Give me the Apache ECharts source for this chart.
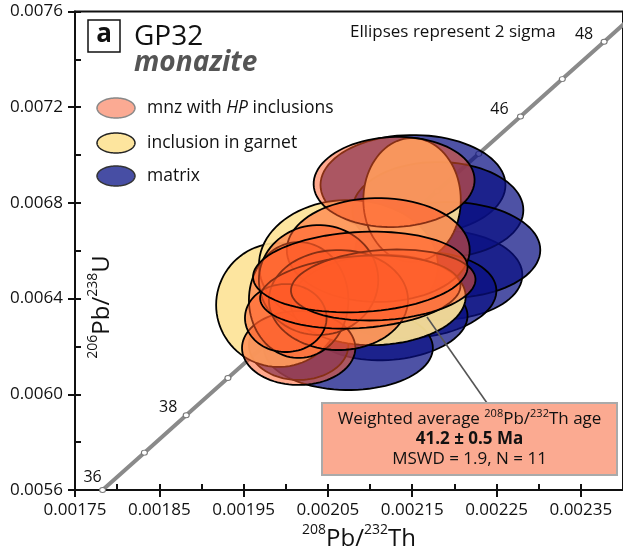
<!DOCTYPE html>
<html><head><meta charset="utf-8">
<script src="https://cdn.jsdelivr.net/npm/echarts@6/dist/echarts.min.js"></script>
<style>html,body{margin:0;padding:0;background:#fff}#c{width:623px;height:551px}</style>
</head><body><div id="c"></div>
<script>
// ---- axis ticks ----
const xTicks = [0.00175,0.00185,0.00195,0.00205,0.00215,0.00225,0.00235];
const xInnerTicks = [0.00175,0.0018,0.00185,0.0019,0.00195,0.002,0.00205,0.0021,0.00215,0.0022,0.00225,0.0023,0.00235];
const yTicks = [0.0056,0.0060,0.0064,0.0068,0.0072,0.0076];
const yInnerTicks = [0.0056,0.0058,0.0060,0.0062,0.0064,0.0066,0.0068,0.0070,0.0072,0.0074,0.0076];

// ---- concordia (Ma, 208Pb/232Th, 206Pb/238U) ----
const concordiaAge = [36,37,38,39,40,41,42,43,44,45,46,47,48,49];
const concordiaX = [0.0017827,0.0018323,0.0018819,0.0019314,0.0019810,0.0020305,0.0020802,0.0021297,0.0021793,0.0022289,0.0022784,0.0023280,0.0023776,0.0024272];
const concordiaY = [0.0056001,0.0057561,0.0059122,0.0060682,0.0062243,0.0063804,0.0065365,0.0066927,0.0068489,0.0070050,0.0071613,0.0073175,0.0074738,0.0076301];
const concordiaLabelAges = [36,38,46,48];

// ---- ellipses: centre, 2-sigma half widths, tilt (deg) ----
const matrixX  = [0.0021804,0.0021509,0.0021804,0.0021922,0.0021509,0.0021215,0.0020743,0.0020153];
const matrixY  = [0.0064986,0.0068748,0.0067703,0.0066031,0.0064150,0.0063106,0.0061935,0.0062061];
const matrixSX = [1.002e-4,1.097e-4,1.014e-4,1.097e-4,9.91e-5,9.43e-5,1.002e-4,5.90e-5];
const matrixSY = [1.881e-4,2.090e-4,2.006e-4,2.006e-4,1.797e-4,1.672e-4,1.756e-4,1.463e-4];
const matrixRot = [0,0,0,0,4,4,0,0];

const garnetX  = [0.0019917,0.0020743,0.0021498,0.0021097];
const garnetY  = [0.0063732,0.0065404,0.0068121,0.0063941];
const garnetSX = [7.43e-5,1.061e-4,5.78e-5,1.038e-4];
const garnetSY = [2.591e-4,2.717e-4,2.591e-4,1.881e-4];
const garnetRot = [0,0,0,3];

const hpX  = [0.0021285,0.0021097,0.0020153,0.0020153,0.0020389,0.0020625,0.0020000,0.0020884,0.0021156,0.0020884];
const hpY  = [0.0068874,0.0066031,0.0061935,0.0063941,0.0064777,0.0063941,0.0063189,0.0064276,0.0064568,0.0065112];
const hpSX = [9.55e-5,1.085e-4,6.72e-5,5.90e-5,7.08e-5,8.25e-5,4.84e-5,1.191e-4,1.097e-4,1.274e-4];
const hpSY = [1.881e-4,2.173e-4,1.546e-4,2.424e-4,2.299e-4,2.090e-4,1.421e-4,1.505e-4,1.463e-4,1.672e-4];
const hpRot = [2,0,0,0,0,0,0,4,4,3];

const FONT = "'Open Sans', 'Noto Sans', sans-serif";

function ellPts(cx, cy, rx, ry, rot) {
  const pts = [];
  const r = (rot || 0) * Math.PI / 180;
  for (let k = 0; k < 90; k++) {
    const t = 2 * Math.PI * k / 90;
    const px = rx * Math.cos(t), py = ry * Math.sin(t);
    pts.push([cx + px * Math.cos(r) - py * Math.sin(r), cy - (px * Math.sin(r) + py * Math.cos(r))]);
  }
  return pts;
}

function ellipseSeries(name, X, Y, SX, SY, R, fill, z) {
  return {
    type: 'custom', name: name, z: z, clip: true,
    data: X.map((x, i) => [x, Y[i], SX[i], SY[i], R[i]]),
    encode: { x: 0, y: 1 },
    renderItem: function (params, api) {
      const c = api.coord([api.value(0), api.value(1)]);
      const s = api.size([api.value(2), api.value(3)]);
      return {
        type: 'polygon',
        shape: { points: ellPts(c[0], c[1], s[0], s[1], api.value(4)) },
        style: { fill: fill, stroke: '#000', lineWidth: 1.8 }
      };
    }
  };
}

const labelOffsets = { 36: [-10, -13], 38: [-18, -8], 46: [-21, -7], 48: [-20, -7] };
const concordiaData = concordiaAge.map((a, i) => {
  const item = { value: [concordiaX[i], concordiaY[i]] };
  if (concordiaLabelAges.indexOf(a) >= 0) {
    item.label = { show: true, position: 'inside', offset: labelOffsets[a], formatter: String(a),
      color: '#111', fontSize: 16, fontFamily: FONT };
  }
  return item;
});

const chart = echarts.init(document.getElementById('c'), null, { renderer: 'canvas' });
const axisCol = '#111';
chart.setOption({
  animation: false,
  backgroundColor: '#fff',
  grid: { left: 75, top: 11.5, width: 550.5, height: 478.5, show: true, borderColor: axisCol, borderWidth: 2, backgroundColor: 'transparent' },
  xAxis: [
    { type: 'value', min: 0.00175, max: 0.0024, position: 'bottom',
      axisLine: { show: true, lineStyle: { color: axisCol, width: 2 } },
      axisTick: { show: true, customValues: xTicks, length: 7, lineStyle: { color: axisCol, width: 2 } },
      axisLabel: { customValues: xTicks, formatter: v => v.toFixed(5), color: '#111', fontFamily: FONT, fontSize: 17, margin: 12 },
      splitLine: { show: false } },
    { type: 'value', min: 0.00175, max: 0.0024, position: 'bottom',
      axisLine: { show: false },
      axisTick: { show: true, inside: true, customValues: xInnerTicks, length: 6, lineStyle: { color: axisCol, width: 2 } },
      axisLabel: { show: false }, splitLine: { show: false } }
  ],
  yAxis: [
    { type: 'value', min: 0.0056, max: 0.0076, position: 'left',
      axisLine: { show: true, lineStyle: { color: axisCol, width: 2 } },
      axisTick: { show: true, customValues: yTicks, length: 7, lineStyle: { color: axisCol, width: 2 } },
      axisLabel: { customValues: yTicks, formatter: v => v.toFixed(4), color: '#111', fontFamily: FONT, fontSize: 17, margin: 12 },
      splitLine: { show: false } },
    { type: 'value', min: 0.0056, max: 0.0076, position: 'left',
      axisLine: { show: false },
      axisTick: { show: true, inside: true, customValues: yInnerTicks, length: 6, lineStyle: { color: axisCol, width: 2 } },
      axisLabel: { show: false }, splitLine: { show: false } }
  ],
  series: [
    { type: 'line', z: 1, data: concordiaData, clip: true,
      lineStyle: { color: '#8a8a8a', width: 4 },
      symbol: 'circle', symbolSize: [6, 5], showSymbol: true,
      itemStyle: { color: '#fff', borderColor: '#777', borderWidth: 1 } },
    ellipseSeries('matrix', matrixX, matrixY, matrixSX, matrixSY, matrixRot, 'rgba(10,15,130,0.72)', 2),
    ellipseSeries('inclusion in garnet', garnetX, garnetY, garnetSX, garnetSY, garnetRot, 'rgba(253,227,152,0.93)', 3),
    ellipseSeries('mnz with HP inclusions', hpX, hpY, hpSX, hpSY, hpRot, 'rgba(255,90,40,0.53)', 4)
  ],
  graphic: [
    // panel label
    { type: 'rect', shape: { x: 88, y: 20, width: 32, height: 32 }, style: { fill: '#fff', stroke: '#111', lineWidth: 1.5 }, z: 50 },
    { type: 'text', x: 104, y: 35, z: 51, style: { text: 'a', fontFamily: FONT, fontWeight: 'bold', fontSize: 26, fill: '#111', textAlign: 'center', textVerticalAlign: 'middle' } },
    { type: 'text', x: 134, y: 37, z: 51, style: { text: 'GP32', fontFamily: FONT, fontSize: 28, fill: '#111', textAlign: 'left', textVerticalAlign: 'middle' } },
    { type: 'text', x: 134, y: 63, z: 51, style: { text: 'monazite', fontFamily: FONT, fontWeight: 'bold', fontStyle: 'italic', fontSize: 28, fill: '#555', textAlign: 'left', textVerticalAlign: 'middle' } },
    { type: 'text', x: 350, y: 32, z: 51, style: { text: 'Ellipses represent 2 sigma', fontFamily: FONT, fontSize: 17, fill: '#111', textAlign: 'left', textVerticalAlign: 'middle' } },
    // legend
    { type: 'polygon', z: 50, shape: { points: ellPts(116, 108, 19, 10, 0) }, style: { fill: '#FBAA93', stroke: '#888', lineWidth: 1.5 } },
    { type: 'polygon', z: 50, shape: { points: ellPts(116, 143, 19, 10, 0) }, style: { fill: '#FDE59E', stroke: '#222', lineWidth: 1.5 } },
    { type: 'polygon', z: 50, shape: { points: ellPts(116, 176, 19, 10, 0) }, style: { fill: '#474EA4', stroke: '#333', lineWidth: 1.5 } },
    { type: 'text', x: 147, y: 108, z: 51, style: { text: 'mnz with {i|HP} inclusions', fontFamily: FONT, fontSize: 17.5, fill: '#111', textVerticalAlign: 'middle',
        rich: { i: { fontFamily: FONT, fontSize: 17.5, fontStyle: 'italic', fill: '#111' } } } },
    { type: 'text', x: 147, y: 143, z: 51, style: { text: 'inclusion in garnet', fontFamily: FONT, fontSize: 17.5, fill: '#111', textVerticalAlign: 'middle' } },
    { type: 'text', x: 147, y: 176, z: 51, style: { text: 'matrix', fontFamily: FONT, fontSize: 17.5, fill: '#111', textVerticalAlign: 'middle' } },
    // axis titles
    { type: 'text', x: 359, y: 537, z: 51, style: { text: '{s|208}{m|Pb/}{s|232}{m|Th}', textAlign: 'center', textVerticalAlign: 'middle',
        rich: { m: { fontFamily: FONT, fontSize: 24, fill: '#111', lineHeight: 28, verticalAlign: 'bottom' }, s: { fontFamily: FONT, fontSize: 14, fill: '#111', lineHeight: 28, verticalAlign: 'top' } } } },
    { type: 'text', x: 100, y: 307, rotation: Math.PI / 2, z: 51, style: { text: '{s|206}{m|Pb/}{s|238}{m|U}', textAlign: 'center', textVerticalAlign: 'middle',
        rich: { m: { fontFamily: FONT, fontSize: 24, fill: '#111', lineHeight: 28, verticalAlign: 'bottom' }, s: { fontFamily: FONT, fontSize: 14, fill: '#111', lineHeight: 28, verticalAlign: 'top' } } } },
    // annotation
    { type: 'line', z: 60, shape: { x1: 427, y1: 317, x2: 487, y2: 403 }, style: { stroke: '#555', lineWidth: 1.6 } },
    { type: 'rect', z: 60, shape: { x: 322, y: 403, width: 295, height: 72 }, style: { fill: '#FBAA91', stroke: '#aaa', lineWidth: 2 } },
    { type: 'text', x: 469.5, y: 418, z: 61, style: { text: '{m|Weighted average }{s|208}{m|Pb/}{s|232}{m|Th age}', textAlign: 'center', textVerticalAlign: 'middle',
        rich: { m: { fontFamily: FONT, fontSize: 17, fill: '#111', lineHeight: 20, verticalAlign: 'bottom' }, s: { fontFamily: FONT, fontSize: 11, fill: '#111', lineHeight: 20, verticalAlign: 'top' } } } },
    { type: 'text', x: 469.5, y: 439, z: 61, style: { text: '41.2 ± 0.5 Ma', fontFamily: FONT, fontWeight: 'bold', fontSize: 17, fill: '#111', textAlign: 'center', textVerticalAlign: 'middle' } },
    { type: 'text', x: 469.5, y: 459, z: 61, style: { text: 'MSWD = 1.9, N = 11', fontFamily: FONT, fontSize: 17, fill: '#111', textAlign: 'center', textVerticalAlign: 'middle' } }
  ]
});
</script></body></html>
